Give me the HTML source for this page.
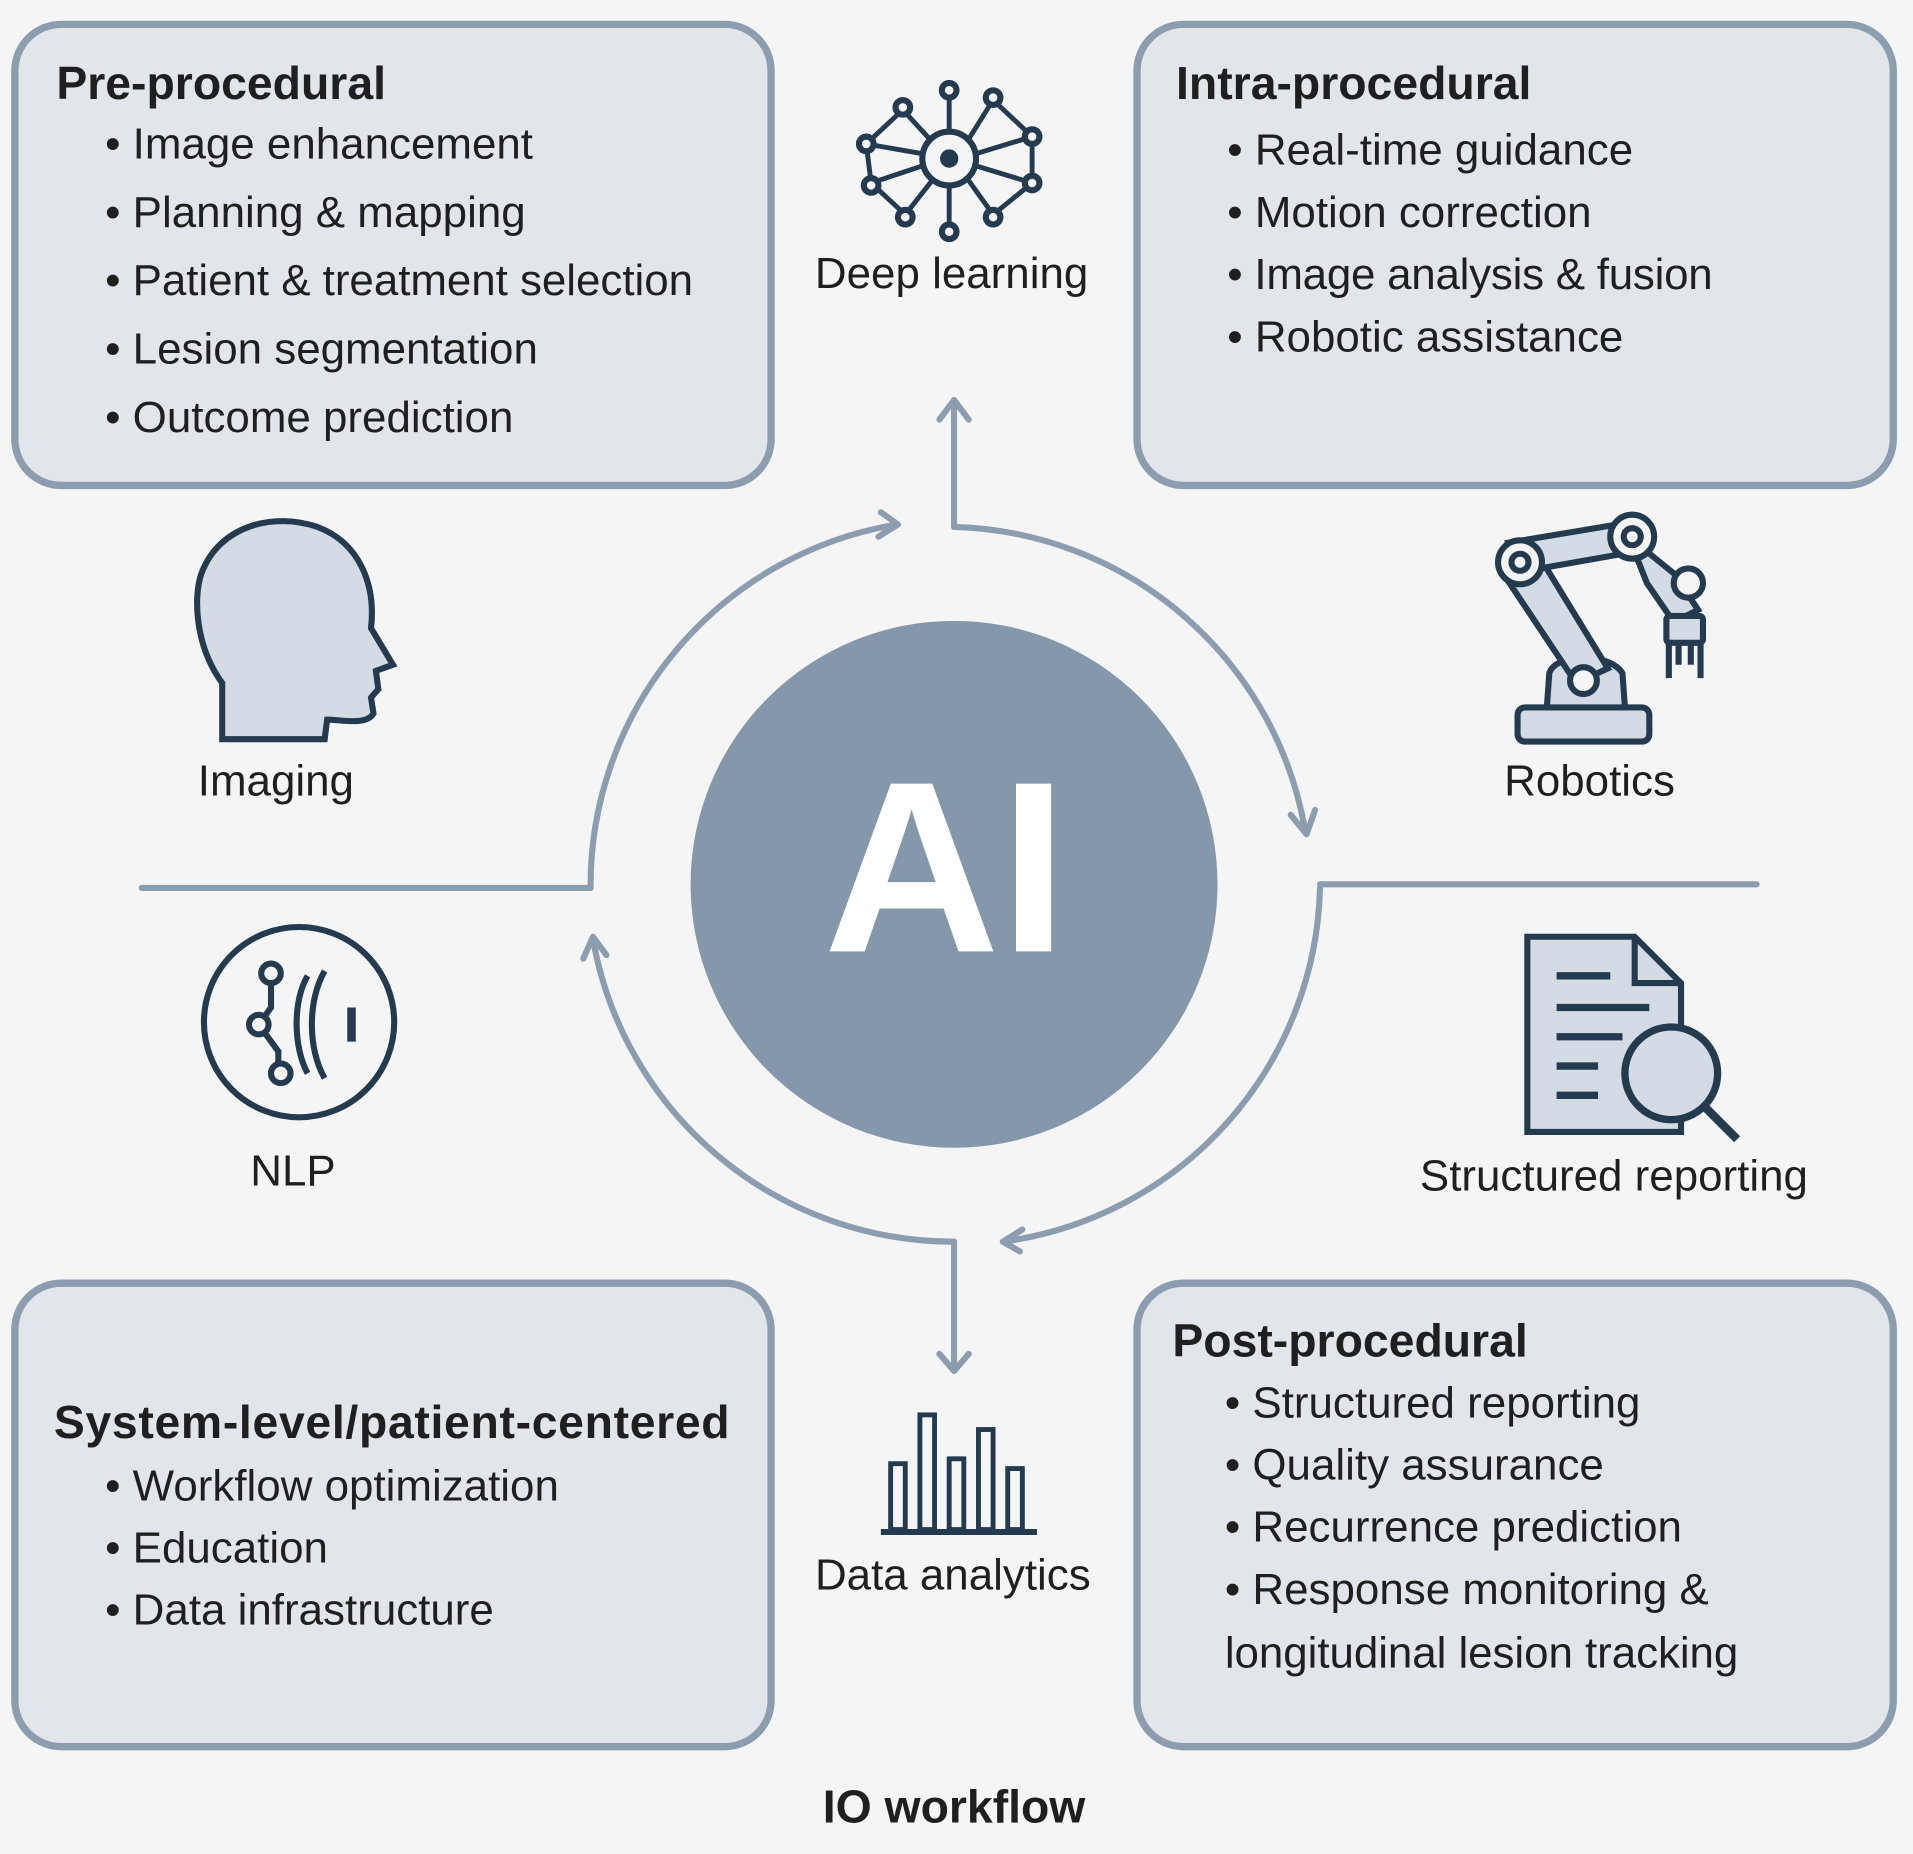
<!DOCTYPE html>
<html><head><meta charset="utf-8"><style>
html,body{margin:0;padding:0;background:#f5f5f5}
svg{display:block}
text{font-family:"Liberation Sans","DejaVu Sans",sans-serif;fill:#1f1f1f}
.b{font-size:36px}
.h{font-size:38px;font-weight:bold}
.l{font-size:36px}
</style></head><body>
<svg width="1913" height="1854" viewBox="0 0 1568 1520" xmlns="http://www.w3.org/2000/svg">
<rect width="1568" height="1520" fill="#f5f5f5"/>
<g fill="#e2e5ea" stroke="#8c9db0" stroke-width="6">
<rect x="12" y="20" width="620" height="378" rx="38"/>
<rect x="932" y="20" width="620" height="378" rx="38"/>
<rect x="12" y="1052" width="620" height="380" rx="38"/>
<rect x="932" y="1052" width="620" height="380" rx="38"/>
</g>
<text class="h" x="46" y="81">Pre-procedural</text>
<text class="b" x="86" y="130">• Image enhancement</text>
<text class="b" x="86" y="186">• Planning &amp; mapping</text>
<text class="b" x="86" y="242" textLength="482">• Patient &amp; treatment selection</text>
<text class="b" x="86" y="298">• Lesion segmentation</text>
<text class="b" x="86" y="354">• Outcome prediction</text>
<text class="h" x="964" y="81">Intra-procedural</text>
<text class="b" x="1006" y="135">• Real-time guidance</text>
<text class="b" x="1006" y="186">• Motion correction</text>
<text class="b" x="1006" y="237" textLength="398">• Image analysis &amp; fusion</text>
<text class="b" x="1006" y="288">• Robotic assistance</text>
<text class="h" x="44" y="1179" textLength="554">System-level/patient-centered</text>
<text class="b" x="86" y="1230">• Workflow optimization</text>
<text class="b" x="86" y="1281">• Education</text>
<text class="b" x="86" y="1332">• Data infrastructure</text>
<text class="h" x="961" y="1112">Post-procedural</text>
<text class="b" x="1004" y="1162">• Structured reporting</text>
<text class="b" x="1004" y="1213">• Quality assurance</text>
<text class="b" x="1004" y="1264">• Recurrence prediction</text>
<text class="b" x="1004" y="1315">• Response monitoring &amp;</text>
<text class="b" x="1004" y="1367" textLength="421">longitudinal lesion tracking</text>
<text class="h" x="782" y="1494" text-anchor="middle">IO workflow</text>

<g fill="none" stroke="#8c9db0" stroke-width="5" stroke-linecap="round" stroke-linejoin="round">
<line x1="116" y1="728" x2="484" y2="728"/>
<line x1="1082" y1="725" x2="1440" y2="725"/>
<path d="M484 728 A300 300 0 0 1 735 430"/>
<path d="M722 420 L736 430 L720 440"/>
<path d="M782 432 L782 328"/><path d="M770 344 L782 328 L794 344"/>
<path d="M782 432 A300 300 0 0 1 1070 682"/><path d="M1058 668 L1071 684 L1078 664"/>
<path d="M1082 728 A300 300 0 0 1 822 1018"/><path d="M838 1008 L822 1018 L836 1026"/>
<path d="M782 1018 L782 1124"/><path d="M770 1110 L782 1124 L794 1110"/>
<path d="M782 1018 A300 300 0 0 1 486 770"/><path d="M478 786 L486 768 L497 783"/>
</g>
<circle cx="782" cy="725" r="216" fill="#8598ab"/>
<text x="775" y="780" text-anchor="middle" style="font-size:200px;font-weight:bold;fill:#fff">AI</text>

<text class="l" x="780" y="236" text-anchor="middle">Deep learning</text>
<text class="l" x="226" y="652" text-anchor="middle">Imaging</text>
<text class="l" x="1303" y="652" text-anchor="middle">Robotics</text>
<text class="l" x="240" y="972" text-anchor="middle">NLP</text>
<text class="l" x="1323" y="976" text-anchor="middle">Structured reporting</text>
<text class="l" x="781" y="1303" text-anchor="middle">Data analytics</text>

<g stroke="#243a4f" stroke-width="5" fill="none">
<circle cx="778" cy="130" r="22"/><circle cx="778" cy="130" r="5" fill="#243a4f"/>
<g stroke-width="4">
<line x1="710" y1="118" x2="756" y2="126"/><line x1="714" y1="150" x2="756" y2="136"/>
<line x1="800" y1="126" x2="846" y2="112"/><line x1="800" y1="136" x2="846" y2="150"/>
<line x1="778" y1="108" x2="778" y2="76"/><line x1="778" y1="152" x2="778" y2="188"/>
<line x1="740" y1="90" x2="762" y2="114"/><line x1="814" y1="82" x2="794" y2="114"/>
<line x1="742" y1="176" x2="764" y2="148"/><line x1="814" y1="176" x2="794" y2="148"/>
<line x1="740" y1="90" x2="710" y2="118"/><line x1="814" y1="82" x2="846" y2="112"/>
<line x1="710" y1="118" x2="714" y2="150"/><line x1="846" y1="112" x2="846" y2="150"/>
<line x1="714" y1="150" x2="742" y2="176"/><line x1="846" y1="150" x2="814" y2="176"/>
</g>
<g fill="#f5f5f5"><circle cx="778" cy="74" r="6"/><circle cx="778" cy="190" r="6"/><circle cx="740" cy="88" r="6"/><circle cx="814" cy="80" r="6"/><circle cx="710" cy="118" r="6"/><circle cx="714" cy="152" r="6"/><circle cx="846" cy="112" r="6"/><circle cx="846" cy="150" r="6"/><circle cx="742" cy="178" r="6"/><circle cx="814" cy="178" r="6"/></g>
<path d="M182 606 L182 560 C160 530 158 490 165 470 C180 430 225 420 260 432 C295 445 308 480 304 515 L322 545 L308 550 L310 565 L304 572 L306 585 C300 595 280 590 268 590 L266 606 Z" fill="#d3dbe4"/>
<g fill="#d3dbe4">
<rect x="1244" y="580" width="108" height="28" rx="6"/>
<path d="M1268 580 L1270 552 C1275 535 1320 535 1330 552 L1332 580 Z"/>
<path d="M1232 470 L1258 450 L1318 548 L1292 560 Z"/>
<path d="M1236 445 L1338 428 L1342 452 L1240 470 Z"/>
<path d="M1335 440 L1372 470 L1392 500 L1372 510 L1350 478 Z"/>
<rect x="1366" y="505" width="30" height="22" rx="3"/>
</g>
<circle cx="1246" cy="461" r="18" fill="#f5f5f5"/><circle cx="1246" cy="461" r="7"/>
<circle cx="1338" cy="440" r="18" fill="#f5f5f5"/><circle cx="1338" cy="440" r="7"/>
<circle cx="1298" cy="558" r="11" fill="#f5f5f5"/>
<circle cx="1384" cy="478" r="12" fill="#f5f5f5"/>
<path d="M1368 527 L1368 556 M1394 527 L1394 556 M1376 527 L1376 545 M1386 527 L1386 545"/>
<circle cx="245" cy="838" r="78"/>
<path d="M222 800 L222 826 L212 840 L228 862 L228 878"/>
<circle cx="222" cy="798" r="8" fill="#f5f5f5"/><circle cx="212" cy="840" r="8" fill="#f5f5f5"/><circle cx="230" cy="880" r="8" fill="#f5f5f5"/>
<path d="M252 800 C240 820 240 858 252 880"/><path d="M266 796 C252 820 252 860 266 884"/>
<line x1="288" y1="826" x2="288" y2="854" stroke-width="7"/>
<path d="M1252 768 L1340 768 L1378 806 L1378 928 L1252 928 Z" fill="#d3dbe4"/>
<path d="M1340 768 L1340 806 L1378 806"/>
<g stroke-width="6"><line x1="1276" y1="800" x2="1320" y2="800"/><line x1="1276" y1="826" x2="1352" y2="826"/><line x1="1276" y1="850" x2="1330" y2="850"/><line x1="1276" y1="874" x2="1310" y2="874"/><line x1="1276" y1="898" x2="1310" y2="898"/></g>
<circle cx="1370" cy="880" r="38" fill="#d3dbe4" stroke-width="6"/>
<line x1="1398" y1="908" x2="1424" y2="934" stroke-width="7"/>
<g stroke-width="4"><rect x="730" y="1200" width="12" height="54"/><rect x="754" y="1160" width="12" height="94"/><rect x="778" y="1196" width="12" height="58"/><rect x="802" y="1172" width="12" height="82"/><rect x="826" y="1204" width="12" height="50"/></g>
<line x1="722" y1="1256" x2="850" y2="1256"/>
</g>
</svg>
</body></html>
